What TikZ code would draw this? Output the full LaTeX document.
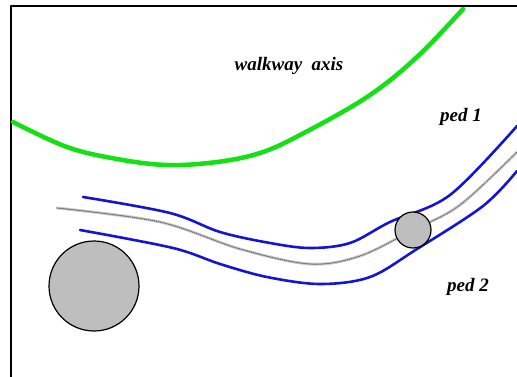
\documentclass[tikz,border=0pt]{standalone}
\usepackage{fontspec}
\setmainfont{Liberation Serif}
\usepackage{tikz}
\usetikzlibrary{positioning}
\definecolor{axisgreen}{RGB}{20,225,20}
\definecolor{pathblue}{RGB}{20,20,215}
\definecolor{obsgray}{RGB}{190,190,190}

\begin{document}
\begin{tikzpicture}[x=1pt, y=-1pt, line join=round, line cap=round,
  walkaxis/.style={draw=axisgreen, line width=4.5pt},
  edgeline/.style={draw=pathblue, line width=2.6pt},
  trackline/.style={draw=gray!90!black, line width=1.4pt, dash pattern=on 0.5pt off 1.5pt,
    preaction={draw=gray!35, line width=3pt, solid}},
  obstacle/.style={draw, circle, line width=1.2pt, fill=obsgray, inner sep=0pt},
  lbl/.style={font=\fontsize{19}{22}\selectfont\bfseries\itshape}]
\useasboundingbox (0,0) rectangle (517,377);
% frame
\draw[line width=1.6pt] (11,377) -- (11,6) -- (517,6);
% walkway axis
\draw[walkaxis] plot[smooth, tension=0.6] coordinates {(13,122) (67,147) (117,159) (167,165) (217,162) (260,153) (300,135) (367,97) (417,57) (463,9)};
\node[lbl] (axislbl) at (289,66) {walkway\ \ axis};
% pedestrian edges
\draw[edgeline] plot[smooth, tension=0.55] coordinates {(83,197) (170,213) (220,232) (270,243) (310,248) (350,243) (390,222) (450,195) (517,126)};
\draw[edgeline] plot[smooth, tension=0.55] coordinates {(80,230) (173,248) (220,264) (267,277) (320,284) (370,277) (417,249) (483,206) (517,171)};
% pedestrian track
\draw[trackline] plot[smooth, tension=0.55] coordinates {(57,208) (160,222) (240,249) (310,264) (360,256) (413,230) (460,205) (517,152)};
% pedestrians
\node[obstacle, minimum size=90pt] (ped2) at (94,286) {};
\node[obstacle, minimum size=36pt] (ped1) at (413,230) {};
\node[lbl] (ped1lbl) at (461,117) {ped 1};
\node[lbl] (ped2lbl) at (468,287) {ped 2};
\end{tikzpicture}
\end{document}
